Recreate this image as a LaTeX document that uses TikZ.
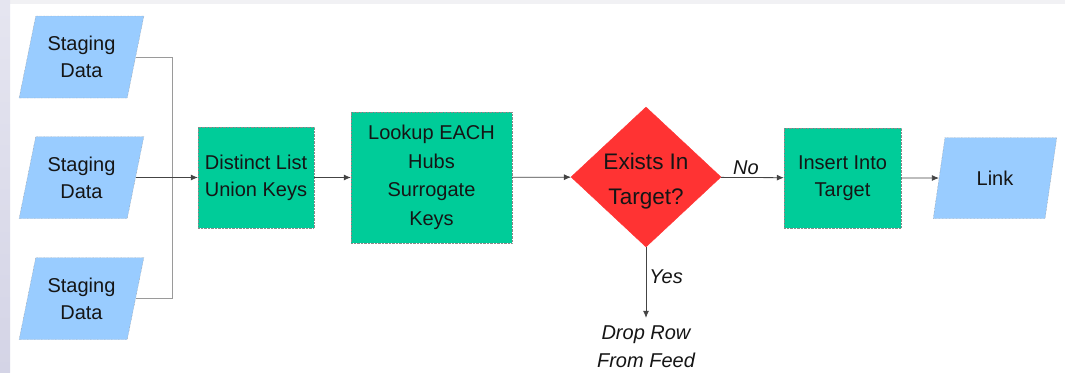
\documentclass[tikz,border=0pt]{standalone}
\usepackage{fontspec}
\setmainfont{Liberation Sans}
\usetikzlibrary{shapes.geometric,arrows.meta}
\definecolor{databl}{HTML}{99CCFF}
\definecolor{procgr}{HTML}{00CC99}
\definecolor{decrd}{HTML}{FF3333}
\definecolor{edgegray}{HTML}{8A8A8A}
\definecolor{feedgray}{HTML}{9A9A9A}
\definecolor{flow}{HTML}{444444}
\definecolor{ink}{HTML}{151515}
\definecolor{stripL}{HTML}{D4D4E6}
\definecolor{stripT}{HTML}{F1F1F4}

\begin{document}
\begin{tikzpicture}[x=1pt,y=-1pt,
  every node/.style={font=\fontsize{20}{27}\selectfont, text=ink, align=center},
  databox/.style={trapezium, trapezium left angle=73.5, trapezium right angle=106.5,
    trapezium stretches=true, minimum width=125pt, minimum height=82pt,
    fill=databl, draw=edgegray, densely dotted, inner sep=0pt},
  procbox/.style={rectangle, fill=procgr, draw=edgegray, densely dotted, inner sep=0pt},
  decbox/.style={diamond, fill=decrd, draw=decrd, inner sep=0pt, shape aspect=1.07,
    minimum width=150pt, minimum height=140pt},
  dectext/.style={font=\fontsize{22.5}{35}\selectfont, inner sep=0pt},
  feed/.style={draw=feedgray, line width=0.8pt},
  flowarr/.style={draw=flow, line width=0.8pt, -{Latex[length=7pt,width=6pt]}},
  lbl/.style={font=\itshape\fontsize{20}{28}\selectfont, inner sep=0pt}
]
% page frame and window chrome strips
\useasboundingbox (0,0) rectangle (1065,372);
\fill[white] (0,0) rectangle (1065,372);
\fill[stripT] (0,0) rectangle (1065,4);
\shade[top color=stripL!60, bottom color=stripL] (0,0) rectangle (10,372);

% staging inputs
\node[databox] (s1) at (81.5,57) {Staging\\Data};
\node[databox] (s2) at (81.5,177.5) {Staging\\Data};
\node[databox] (s3) at (81.5,298.5) {Staging\\Data};

% processing steps
\node[procbox, minimum width=116pt, minimum height=101pt] (dist) at (256,177.5) {Distinct List\\Union Keys};
\node[procbox, minimum width=161pt, minimum height=131pt,
      font=\fontsize{20}{28.5}\selectfont] (look) at (431.5,177.5) {Lookup EACH\\Hubs\\Surrogate\\Keys};
\node[decbox] (dec) at (646,177) {};
\node[dectext] (dectxt) at (646,181) {Exists In\\Target?};
\node[procbox, minimum width=117pt, minimum height=100pt] (ins) at (842.5,178) {Insert Into\\Target};
\node[databox, minimum width=124pt, minimum height=81pt] (link) at (995,178) {Link};

% rejected rows
\node[lbl] (drop) at (646,347) {Drop Row\\From Feed};

% merge of staging feeds
\coordinate (join) at (172,177.5);
\draw[feed] (s1.east) -| (join);
\draw[feed] (s3.east) -| (join);
\draw[flowarr] (s2.east) -- (dist.west);

% main flow
\draw[flowarr] (dist) -- (look);
\draw[flowarr] (look) -- (dec);
\draw[flowarr] (dec) -- node[lbl, above, pos=0.4, yshift=2pt] {No} (ins);
\draw[flowarr] (ins) -- (link);
\draw[flowarr, shorten >=8pt] (dec.south) -- node[lbl, right, pos=0.38, xshift=3pt] {Yes} (drop.north);
\end{tikzpicture}
\end{document}
